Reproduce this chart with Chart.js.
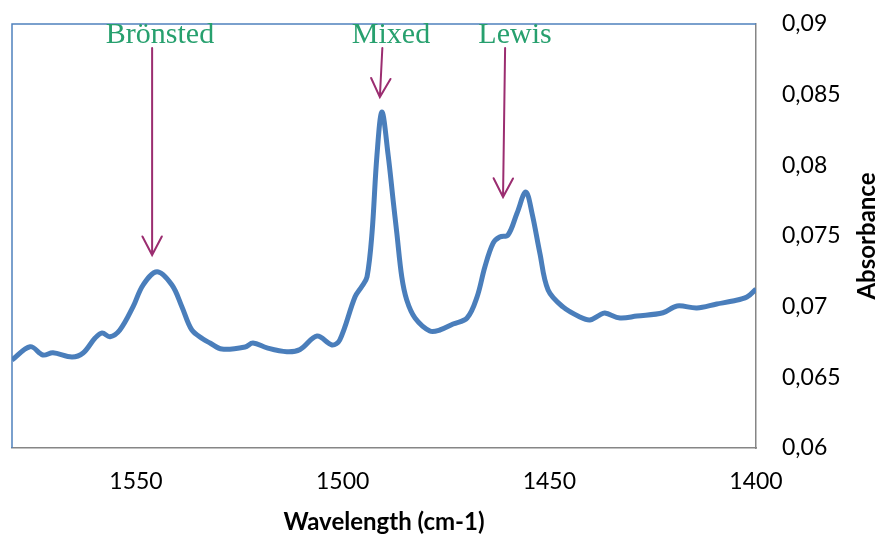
<!DOCTYPE html>
<html>
<head>
<meta charset="utf-8">
<script src="https://cdn.jsdelivr.net/npm/chart.js@4/dist/chart.umd.min.js"></script>
<style>
  html, body { margin: 0; padding: 0; background: #fff; }
  #wrap { width: 879px; height: 535px; }
</style>
</head>
<body>
<div id="wrap"><canvas id="chart" width="879" height="535"></canvas></div>
<script>
// IR spectrum (pyridine adsorption)
const wavenumber = [
  1580.0, 1575.6, 1572.5, 1570.1, 1565.5, 1562.8, 1559.9, 1558.2, 1556.3, 1553.9,
  1550.7, 1548.3, 1544.9, 1541.3, 1538.9, 1536.5, 1533.8, 1532.1, 1529.2, 1523.6,
  1521.7, 1518.3, 1513.5, 1510.3, 1506.2, 1502.6, 1500.7, 1497.0, 1495.3, 1494.1,
  1492.9, 1491.7, 1490.5, 1489.0, 1487.8, 1486.9, 1485.7, 1484.5, 1482.5, 1478.9,
  1476.5, 1473.3, 1469.9, 1467.5, 1465.6, 1463.6, 1462.0, 1460.0, 1457.8, 1455.7,
  1454.2, 1452.3, 1450.3, 1446.7, 1442.6, 1440.2, 1437.8, 1436.6, 1432.9, 1428.8,
  1422.5, 1419.1, 1414.3, 1409.5, 1405.6, 1402.2, 1400.0
];
const absorbance = [
  0.06623, 0.06717, 0.06658, 0.06674, 0.06644, 0.06672, 0.06778, 0.06814, 0.06787, 0.06835,
  0.07000, 0.07153, 0.07247, 0.07153, 0.07000, 0.06835, 0.06771, 0.06743, 0.06700, 0.06715,
  0.06743, 0.06708, 0.06681, 0.06697, 0.06792, 0.06729, 0.06764, 0.07070, 0.07146, 0.07212,
  0.07521, 0.08073, 0.08377, 0.08073, 0.07755, 0.07521, 0.07210, 0.07047, 0.06920, 0.06828,
  0.06835, 0.06877, 0.06920, 0.07068, 0.07281, 0.07450, 0.07493, 0.07507, 0.07663, 0.07811,
  0.07663, 0.07380, 0.07118, 0.06998, 0.06927, 0.06906, 0.06941, 0.06955, 0.06920, 0.06934,
  0.06957, 0.07005, 0.06991, 0.07019, 0.07040, 0.07068, 0.07125
];

const xTicks = [1550, 1500, 1450, 1400];
const yTicks = [0.06, 0.065, 0.07, 0.075, 0.08, 0.085, 0.09];

// annotations: label, label centre (cm-1), arrow top / tip (cm-1), arrow tip (absorbance)
const siteLabels = ['Brönsted', 'Mixed', 'Lewis'];
const siteLabelX = [1544.2, 1488.3, 1458.3];
const arrowTopX = [1546.1, 1490.4, 1460.7];
const arrowTipX = [1546.1, 1491.0, 1461.2];
const arrowTipY = [0.07365, 0.08483, 0.07776];
const arrowTopY = 0.0883;

const tickFont = { family: 'Lato, "Open Sans", sans-serif', size: 23 };

// cadre de la zone de tracé (haut/gauche bleu)
const frame = {
  id: 'frame',
  beforeDatasetsDraw(chart) {
    const { ctx, chartArea: a } = chart;
    ctx.save();
    ctx.strokeStyle = '#4F81BD';
    ctx.lineWidth = 1.5;
    ctx.beginPath();
    ctx.moveTo(a.left, a.bottom);
    ctx.lineTo(a.left, a.top);
    ctx.lineTo(a.right, a.top);
    ctx.stroke();
    ctx.restore();
  }
};

// titres des axes + flèches
const extras = {
  id: 'extras',
  afterDatasetsDraw(chart) {
    const { ctx, chartArea: a, scales: { x, y } } = chart;
    ctx.save();

    ctx.fillStyle = '#000';
    ctx.font = 'bold 24px Lato, "Open Sans", sans-serif';
    ctx.textAlign = 'center';
    ctx.textBaseline = 'middle';
    ctx.fillText('Wavelength (cm-1)', (a.left + a.right) / 2, 522);

    ctx.translate(867, 236);
    ctx.rotate(-Math.PI / 2);
    ctx.fillText('Absorbance', 0, 0);
    ctx.setTransform(1, 0, 0, 1, 0, 0);

    ctx.font = '30px "Liberation Serif", "Times New Roman", serif';
    ctx.textBaseline = 'alphabetic';
    ctx.fillStyle = '#27A06E';
    siteLabels.forEach((lab, i) => {
      ctx.fillText(lab, x.getPixelForValue(siteLabelX[i]), 43);
    });

    ctx.strokeStyle = '#9B2D70';
    ctx.lineWidth = 2;
    ctx.lineCap = 'round';
    siteLabels.forEach((lab, i) => {
      const x0 = x.getPixelForValue(arrowTopX[i]);
      const y0 = y.getPixelForValue(arrowTopY);
      const x1 = x.getPixelForValue(arrowTipX[i]);
      const y1 = y.getPixelForValue(arrowTipY[i]);
      const ang = Math.atan2(y1 - y0, x1 - x0);
      const len = 21, spread = 0.48;
      ctx.beginPath();
      ctx.moveTo(x0, y0);
      ctx.lineTo(x1, y1);
      ctx.moveTo(x1 - len * Math.cos(ang - spread), y1 - len * Math.sin(ang - spread));
      ctx.lineTo(x1, y1);
      ctx.lineTo(x1 - len * Math.cos(ang + spread), y1 - len * Math.sin(ang + spread));
      ctx.stroke();
    });
    ctx.restore();
  }
};

new Chart(document.getElementById('chart'), {
  type: 'line',
  data: {
    datasets: [{
      data: wavenumber.map((w, i) => ({ x: w, y: absorbance[i] })),
      borderColor: '#4A7EBB',
      borderWidth: 5,
      pointRadius: 0,
      tension: 0.35,
      fill: false
    }]
  },
  options: {
    responsive: false,
    animation: false,
    devicePixelRatio: 1,
    layout: { padding: { top: 24, left: 12, right: 0, bottom: 0 } },
    plugins: { legend: { display: false }, tooltip: { enabled: false } },
    scales: {
      x: {
        type: 'linear',
        position: 'bottom',
        reverse: true,
        min: 1400,
        max: 1580,
        grid: { display: false, drawTicks: false, tickLength: 0 },
        border: { display: true, color: '#868686', width: 1.5 },
        ticks: {
          font: tickFont,
          color: '#000',
          padding: 20,
          maxRotation: 0,
          callback: v => String(v)
        },
        afterBuildTicks: s => { s.ticks = xTicks.map(v => ({ value: v })); },
        afterFit: s => { s.height = 87; s.paddingLeft = 0; s.paddingRight = 0; }
      },
      y: {
        type: 'linear',
        position: 'right',
        min: 0.06,
        max: 0.09,
        grid: { display: false, drawTicks: false, tickLength: 0 },
        border: { display: true, color: '#868686', width: 1.5 },
        ticks: {
          font: tickFont,
          color: '#000',
          padding: 26,
          callback: v => String(+v.toFixed(3)).replace('.', ',')
        },
        afterBuildTicks: s => { s.ticks = yTicks.map(v => ({ value: v })); },
        afterFit: s => { s.width = 123; s.paddingTop = 0; s.paddingBottom = 0; }
      }
    }
  },
  plugins: [frame, extras]
});
</script>
</body>
</html>
